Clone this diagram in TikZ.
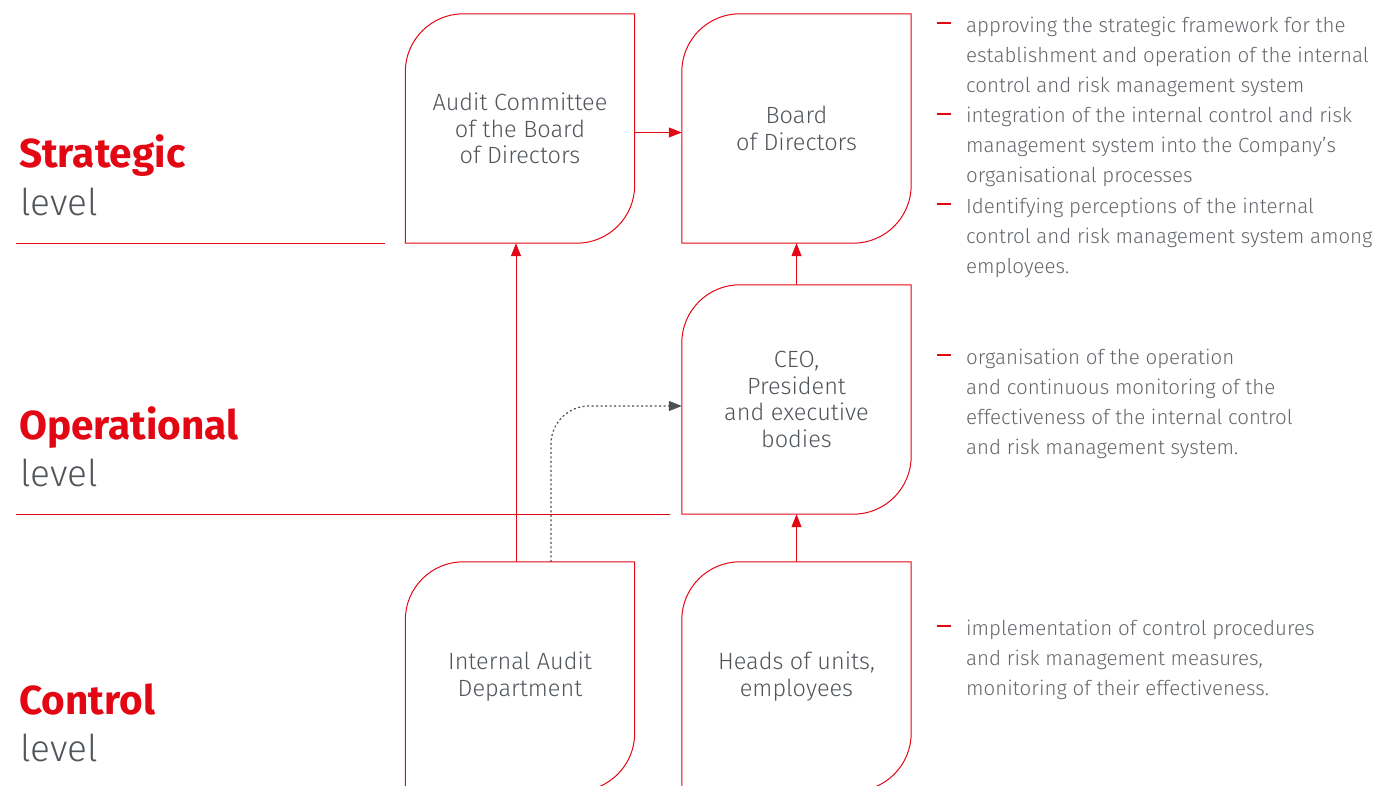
\documentclass[tikz,border=0pt]{standalone}
\usepackage{fontspec}
\IfFontExistsTF{Fira Sans Light}{\setmainfont{Fira Sans Light}[BoldFont={Fira Sans Bold}]}{\setmainfont{Fira Sans}}
\usetikzlibrary{arrows.meta,calc}
\definecolor{rred}{HTML}{E30613}
\definecolor{tgray}{HTML}{50555A}
\definecolor{lgray}{HTML}{63676B}
\definecolor{dgray}{HTML}{4A4F53}
\newcommand\leafoutline[1]{%
  \draw[boxline] ([yshift=-58pt]#1.north west) .. controls ([yshift=-26pt]#1.north west) and ([xshift=26pt]#1.north west) .. ([xshift=58pt]#1.north west)
    -- (#1.north east) -- ([yshift=58pt]#1.south east) .. controls ([yshift=26pt]#1.south east) and ([xshift=-26pt]#1.south east) .. ([xshift=-58pt]#1.south east)
    -- (#1.south west) -- cycle;}
\begin{document}
\begin{tikzpicture}[x=1pt,y=-1pt,
  leaf/.style={minimum width=229pt,minimum height=229pt,inner sep=0pt,align=center,text=tgray,font=\fontsize{23.5}{26.5}\selectfont},
  boxline/.style={draw=rred,line width=1pt},
  levelline/.style={draw=rred,line width=1pt},
  redarrow/.style={draw=rred,line width=1pt,-{Triangle[length=13pt,width=10pt]}},
  dotarrow/.style={draw=dgray,line width=1.2pt,dash pattern=on 2pt off 2.5pt,rounded corners=38pt,-{Triangle[length=13pt,width=10pt]}},
  lvlname/.style={anchor=base west,inner sep=0pt,text=rred,font=\fontsize{40.5}{40}\selectfont\bfseries},
  lvlword/.style={anchor=base west,inner sep=0pt,text=tgray,font=\fontsize{37}{37}\selectfont},
  bullet/.style={anchor=base west,inner sep=0pt,align=left,text=lgray,font=\fontsize{20.5}{30.1}\selectfont},
  dashmark/.style={draw=rred,line width=1.2pt}
]
\useasboundingbox (0,0) rectangle (1376,785);
\clip (0,0) rectangle (1376,785);

% boxes
\node[leaf] (ac) at (520,128.5) {Audit Committee\\of the Board\\of Directors};
\node[leaf] (bd) at (796.5,128.5) {Board\\of Directors};
\node[leaf] (ceo) at (796.5,399.5) {CEO,\\President\\and executive\\bodies};
\node[leaf] (ia) at (520,676.5) {Internal Audit\\Department};
\node[leaf] (hu) at (796.5,676.5) {Heads of units,\\employees};
\leafoutline{ac}
\leafoutline{bd}
\leafoutline{ceo}
\leafoutline{ia}
\leafoutline{hu}

% level separators
\coordinate (s1) at (16,243);
\coordinate (s2) at (385,243);
\coordinate (o1) at (16,514);
\coordinate (o2) at (670,514);
\draw[levelline] (s1) -- (s2);
\draw[levelline] (o1) -- (o2);

% connectors
\draw[redarrow] ([yshift=-4pt]ac.east) -- ([yshift=-4pt]bd.west);
\draw[redarrow] ([xshift=-4pt]ia.north) -- ([xshift=-4pt]ac.south);
\draw[redarrow] (ceo.north) -- (bd.south);
\draw[redarrow] (hu.north) -- (ceo.south);
\draw[dotarrow] ([xshift=31pt]ia.north) |- ([yshift=-6.5pt]ceo.west);

% level labels
\node[lvlname] (ls) at (19,167) {Strategic};
\node[lvlword] (lsw) at (20,215) {level};
\node[lvlname] (lo) at (19,439) {Operational};
\node[lvlword] (low) at (20,486) {level};
\node[lvlname] (lc) at (19,714) {Control};
\node[lvlword] (lcw) at (20,761) {level};

% descriptions
\foreach \y/\n in {23/d1,114/d2,204/d3,355/d4,626/d5}{
  \coordinate (\n a) at (937,\y);
  \coordinate (\n b) at (951,\y);
  \draw[dashmark] (\n a) -- (\n b);
}
\node[bullet] (t1) at (966,92.2) {approving the strategic framework for the\\establishment and operation of the internal\\control and risk management system};
\node[bullet] (t2) at (966,182.7) {integration of the internal control and risk\\management system into the Company’s\\organisational processes};
\node[bullet] (t3) at (966,273.2) {Identifying perceptions of the internal\\control and risk management system among\\employees.};
\node[bullet] (t4) at (966,454.3) {organisation of the operation\\and continuous monitoring of the\\effectiveness of the internal control\\and risk management system.};
\node[bullet] (t5) at (966,695.2) {implementation of control procedures\\and risk management measures,\\monitoring of their effectiveness.};
\end{tikzpicture}
\end{document}
